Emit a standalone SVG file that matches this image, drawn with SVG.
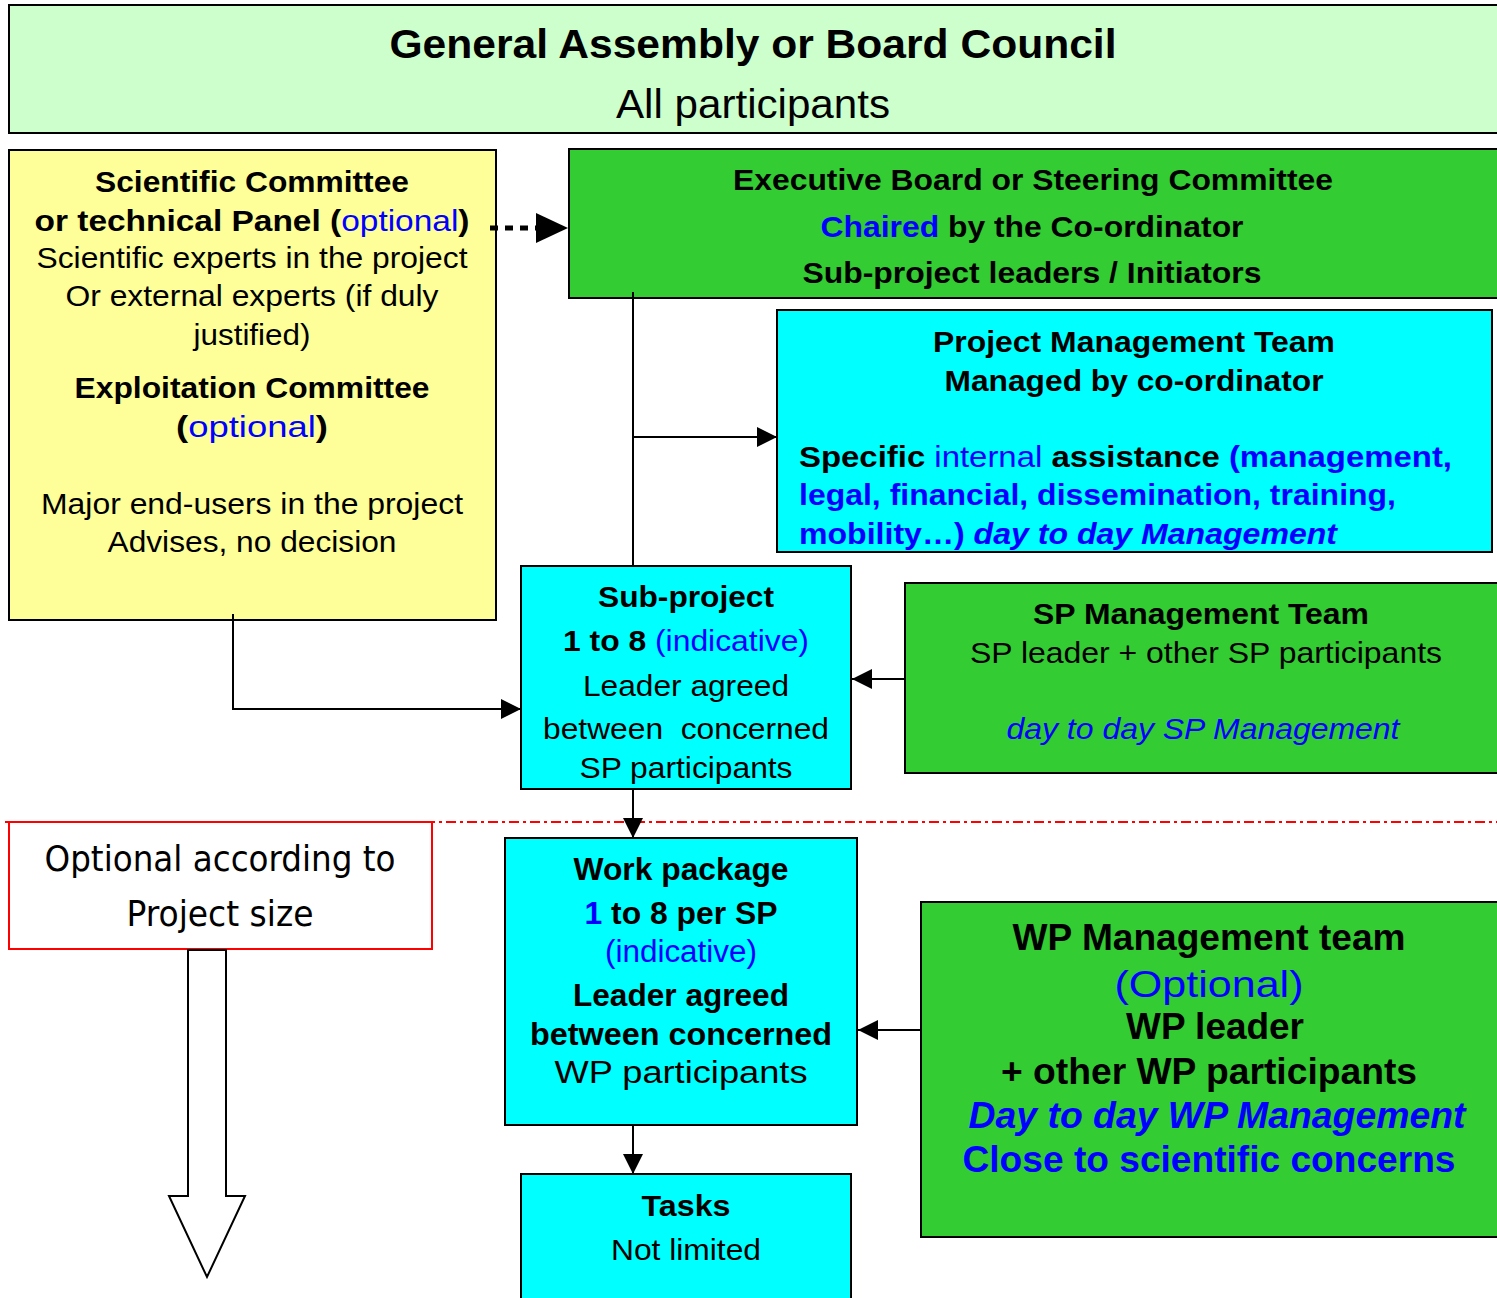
<svg xmlns="http://www.w3.org/2000/svg" width="1497" height="1298" viewBox="0 0 1497 1298">
<style>
.t{font-family:"Liberation Sans",Arial,sans-serif;fill:#000;}
.b{font-weight:bold;}
.i{font-style:italic;}
.blue{fill:#0000FF;}
.n{font-weight:normal;}
.box{stroke:#000;stroke-width:2;}
.conn{stroke:#000;stroke-width:2;fill:none;}
.tah{font-family:"DejaVu Sans Condensed","DejaVu Sans",Tahoma,sans-serif;fill:#000;}
</style>
<defs>
<marker id="arr" viewBox="0 0 20 20" markerWidth="20" markerHeight="20" refX="20" refY="10" orient="auto" markerUnits="userSpaceOnUse">
<path d="M0,0 L20,10 L0,20 z" fill="#000"/>
</marker>
</defs>
<rect width="1497" height="1298" fill="#fff"/>

<g id="general-assembly">
<rect class="box" x="9" y="5" width="1492" height="128" fill="#CCFFCC"/>
<text class="t b" x="753" y="58" font-size="40" text-anchor="middle" textLength="727" lengthAdjust="spacingAndGlyphs">General Assembly or Board Council</text>
<text class="t" x="753" y="118" font-size="40" text-anchor="middle" textLength="274" lengthAdjust="spacingAndGlyphs">All participants</text>
</g>

<g id="scientific-committee">
<rect class="box" x="9" y="150" width="487" height="470" fill="#FFFF99"/>
<g font-size="30" text-anchor="middle">
<text class="t b" x="252" y="192" textLength="314" lengthAdjust="spacingAndGlyphs">Scientific Committee</text>
<text class="t b" x="252" y="231" textLength="435" lengthAdjust="spacingAndGlyphs">or technical Panel (<tspan class="blue n">optional</tspan>)</text>
<text class="t" x="252" y="268" textLength="431" lengthAdjust="spacingAndGlyphs">Scientific experts in the project</text>
<text class="t" x="252" y="306" textLength="373" lengthAdjust="spacingAndGlyphs">Or external experts (if duly</text>
<text class="t" x="252" y="345" textLength="117" lengthAdjust="spacingAndGlyphs">justified)</text>
<text class="t b" x="252" y="398" textLength="355" lengthAdjust="spacingAndGlyphs">Exploitation Committee</text>
<text class="t b" x="252" y="437" textLength="152" lengthAdjust="spacingAndGlyphs">(<tspan class="blue n">optional</tspan>)</text>
<text class="t" x="252" y="514" textLength="422" lengthAdjust="spacingAndGlyphs">Major end-users in the project</text>
<text class="t" x="252" y="552" textLength="289" lengthAdjust="spacingAndGlyphs">Advises, no decision</text>
</g>
</g>

<g id="executive-board">
<rect class="box" x="569" y="149" width="932" height="149" fill="#33CC33"/>
<g font-size="30" text-anchor="middle">
<text class="t b" x="1033" y="190" textLength="600" lengthAdjust="spacingAndGlyphs">Executive Board or Steering Committee</text>
<text class="t b" x="1032" y="237" textLength="423" lengthAdjust="spacingAndGlyphs"><tspan class="blue">Chaired</tspan> by the Co-ordinator</text>
<text class="t b" x="1032" y="283" textLength="459" lengthAdjust="spacingAndGlyphs">Sub-project leaders / Initiators</text>
</g>
</g>

<g id="project-management-team">
<rect class="box" x="777" y="310" width="715" height="242" fill="#00FFFF"/>
<g font-size="30">
<text class="t b" x="1134" y="352" text-anchor="middle" textLength="402" lengthAdjust="spacingAndGlyphs">Project Management Team</text>
<text class="t b" x="1134" y="391" text-anchor="middle" textLength="379" lengthAdjust="spacingAndGlyphs">Managed by co-ordinator</text>
<text class="t b" x="799" y="467" textLength="653" lengthAdjust="spacingAndGlyphs">Specific <tspan class="blue n">internal</tspan> assistance <tspan class="blue">(management,</tspan></text>
<text class="t b blue" x="799" y="505" textLength="597" lengthAdjust="spacingAndGlyphs">legal, financial, dissemination, training,</text>
<text class="t b blue" x="799" y="544" textLength="538" lengthAdjust="spacingAndGlyphs">mobility…) <tspan class="i">day to day Management</tspan></text>
</g>
</g>

<g id="sub-project">
<rect class="box" x="521" y="566" width="330" height="223" fill="#00FFFF"/>
<g font-size="30" text-anchor="middle">
<text class="t b" x="686" y="607" textLength="176" lengthAdjust="spacingAndGlyphs">Sub-project</text>
<text class="t b" x="686" y="651" textLength="246" lengthAdjust="spacingAndGlyphs">1 to 8 <tspan class="blue n">(indicative)</tspan></text>
<text class="t" x="686" y="696" textLength="206" lengthAdjust="spacingAndGlyphs">Leader agreed</text>
<text class="t" x="686" y="739" textLength="286" lengthAdjust="spacingAndGlyphs">between &#160;concerned</text>
<text class="t" x="686" y="778" textLength="213" lengthAdjust="spacingAndGlyphs">SP participants</text>
</g>
</g>

<g id="sp-management-team">
<rect class="box" x="905" y="583" width="596" height="190" fill="#33CC33"/>
<g font-size="30" text-anchor="middle">
<text class="t b" x="1201" y="624" textLength="336" lengthAdjust="spacingAndGlyphs">SP Management Team</text>
<text class="t" x="1206" y="663" textLength="472" lengthAdjust="spacingAndGlyphs">SP leader + other SP participants</text>
<text class="t i blue" x="1203" y="739" textLength="393" lengthAdjust="spacingAndGlyphs">day to day SP Management</text>
</g>
</g>

<g id="optional-note">
<line x1="5" y1="822" x2="1497" y2="822" stroke="#FF0000" stroke-width="2" stroke-dasharray="10 4 3 4"/>
<rect x="9" y="822" width="423" height="127" fill="#fff" stroke="#FF0000" stroke-width="2"/>
<text class="tah" x="220" y="871" font-size="35" text-anchor="middle" textLength="351" lengthAdjust="spacingAndGlyphs">Optional according to</text>
<text class="tah" x="220" y="926" font-size="35" text-anchor="middle" textLength="187" lengthAdjust="spacingAndGlyphs">Project size</text>
<path d="M188,950 L226,950 L226,1196 L245,1196 L207,1277 L169,1196 L188,1196 Z" fill="#fff" stroke="#000" stroke-width="2" stroke-linejoin="miter"/>
</g>

<g id="work-package">
<rect class="box" x="505" y="838" width="352" height="287" fill="#00FFFF"/>
<g font-size="31" text-anchor="middle">
<text class="t b" x="681" y="880" textLength="215" lengthAdjust="spacingAndGlyphs">Work package</text>
<text class="t b" x="681" y="924" textLength="193" lengthAdjust="spacingAndGlyphs"><tspan class="blue">1</tspan> to 8 per SP</text>
<text class="t blue" x="681" y="962" textLength="152" lengthAdjust="spacingAndGlyphs">(indicative)</text>
<text class="t b" x="681" y="1006" textLength="216" lengthAdjust="spacingAndGlyphs">Leader agreed</text>
<text class="t b" x="681" y="1045" textLength="302" lengthAdjust="spacingAndGlyphs">between concerned</text>
<text class="t" x="681" y="1083" textLength="253" lengthAdjust="spacingAndGlyphs">WP participants</text>
</g>
</g>

<g id="tasks">
<rect class="box" x="521" y="1174" width="330" height="130" fill="#00FFFF"/>
<g font-size="30" text-anchor="middle">
<text class="t b" x="686" y="1216" textLength="89" lengthAdjust="spacingAndGlyphs">Tasks</text>
<text class="t" x="686" y="1260" textLength="150" lengthAdjust="spacingAndGlyphs">Not limited</text>
</g>
</g>

<g id="wp-management-team">
<rect class="box" x="921" y="902" width="580" height="335" fill="#33CC33"/>
<g font-size="36" text-anchor="middle">
<text class="t b" x="1209" y="950" textLength="393" lengthAdjust="spacingAndGlyphs">WP Management team</text>
<text class="t blue" x="1209" y="997" textLength="189" lengthAdjust="spacingAndGlyphs">(Optional)</text>
<text class="t b" x="1215" y="1039" textLength="178" lengthAdjust="spacingAndGlyphs">WP leader</text>
<text class="t b" x="1209" y="1084" textLength="416" lengthAdjust="spacingAndGlyphs">+ other WP participants</text>
<text class="t b i blue" x="1217" y="1128" textLength="497" lengthAdjust="spacingAndGlyphs">Day to day WP Management</text>
<text class="t b blue" x="1209" y="1172" textLength="493" lengthAdjust="spacingAndGlyphs">Close to scientific concerns</text>
</g>
</g>

<g id="connectors">
<line x1="490" y1="228" x2="538" y2="228" stroke="#000" stroke-width="5" stroke-dasharray="8 7"/>
<path d="M536,213 L568,228 L536,243 Z" fill="#000"/>
<polyline class="conn" points="633,292 633,566"/>
<line class="conn" x1="633" y1="437" x2="777" y2="437" marker-end="url(#arr)"/>
<polyline class="conn" points="233,614 233,709 521,709" marker-end="url(#arr)"/>
<line class="conn" x1="905" y1="679" x2="852" y2="679" marker-end="url(#arr)"/>
<line class="conn" x1="633" y1="789" x2="633" y2="838" marker-end="url(#arr)"/>
<line class="conn" x1="633" y1="1125" x2="633" y2="1174" marker-end="url(#arr)"/>
<line class="conn" x1="921" y1="1030" x2="858" y2="1030" marker-end="url(#arr)"/>
</g>
</svg>
